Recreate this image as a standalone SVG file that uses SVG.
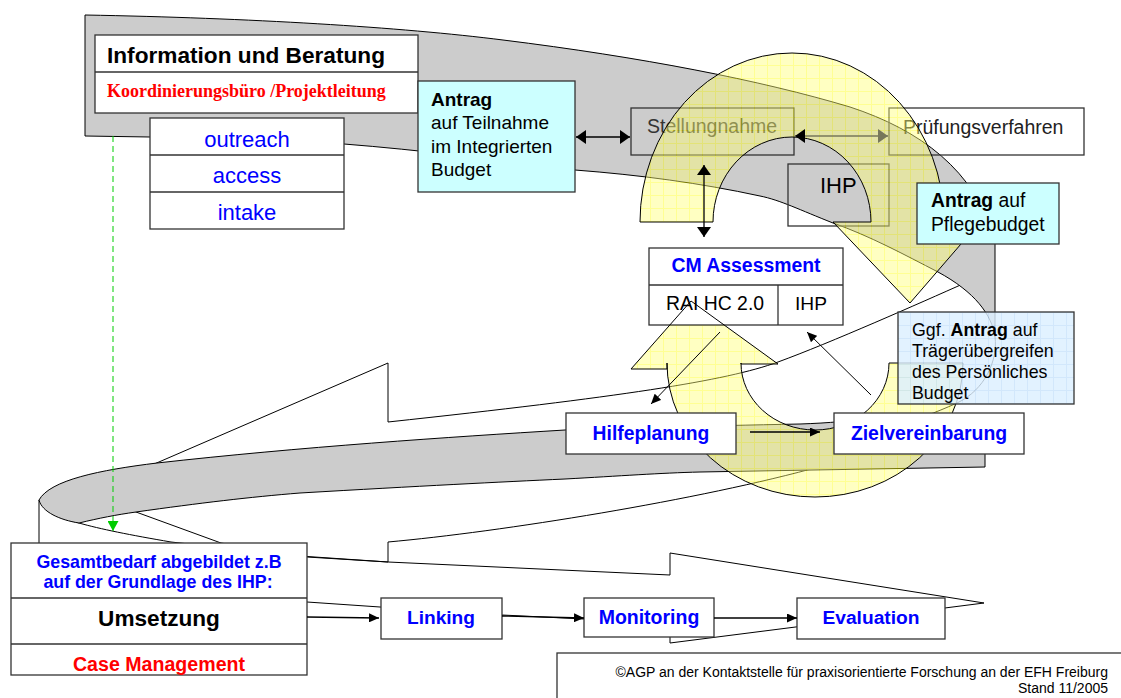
<svg xmlns="http://www.w3.org/2000/svg" width="1121" height="698" viewBox="0 0 1121 698">
<style>
.box{fill:#fff;stroke:#333;stroke-width:1.3}
.nf{fill:none;stroke:#333;stroke-width:1.3}
.cy{fill:#CCFFFF;stroke:#333;stroke-width:1.3}
.t{font-family:"Liberation Sans",Arial,sans-serif;fill:#000}
.s{font-family:"Liberation Serif","Times New Roman",serif}
.b{font-weight:bold}
.blue{fill:#0000FF}
.red{fill:#FF0000}
.band{fill:#CCCCCC;stroke:#000;stroke-width:1}
.ln{fill:none;stroke:#000;stroke-width:1}
.wh{fill:#fff;stroke:#000;stroke-width:1}
.yf{fill:url(#yg);opacity:0.45}
.ys{fill:none;stroke:#000;stroke-width:1}
.c{fill:none;stroke:#000;stroke-width:1.3}
</style>
<defs>
<pattern id="yg" width="13" height="13" patternUnits="userSpaceOnUse">
<rect width="13" height="13" fill="#FFFF78"/>
<path d="M0 0.5H13M0.5 0V13" stroke="#FFFF10" stroke-width="1"/>
</pattern>
<pattern id="bg" width="13" height="13" patternUnits="userSpaceOnUse">
<rect width="13" height="13" fill="#DCEFFF"/>
<path d="M0 0.5H13M0.5 0V13" stroke="#C8E2FA" stroke-width="1"/>
</pattern>
<marker id="big" viewBox="0 0 10 14" refX="10" refY="7" markerWidth="10" markerHeight="14" orient="auto-start-reverse" markerUnits="userSpaceOnUse"><path d="M0,0 L10,7 L0,14 Z" fill="#000"/></marker>
<marker id="bigo" viewBox="0 0 10 14" refX="10" refY="7" markerWidth="10" markerHeight="14" orient="auto-start-reverse" markerUnits="userSpaceOnUse"><path d="M0,0 L10,7 L0,14 Z" fill="#77775A"/></marker>
<marker id="sm" viewBox="0 0 10 9" refX="10" refY="4.5" markerWidth="10" markerHeight="9" orient="auto" markerUnits="userSpaceOnUse"><path d="M0,0 L10,4.5 L0,9 Z" fill="#000"/></marker>
<marker id="gr" viewBox="0 0 11 10" refX="5.5" refY="10" markerWidth="11" markerHeight="10" orient="0" markerUnits="userSpaceOnUse"><path d="M0,0 L11,0 L5.5,10 Z" fill="#00CC00"/></marker>
</defs>

<rect width="1121" height="698" fill="#fff"/>

<g id="ribbons">
<path class="wh" d="M39,500 L39,600 L307,602 L380,607 L502,615 L584,619 L670,628 L670,643 L984,603 L670,553 L670,575 L388,562 L307,557 L171,542 C130,535 100,529 79,523 C60,518 45,510 39,500 Z"/>
<path class="ln" d="M822,466 C700,500 500,532 388,542 L388,562 L300,556 L221,543 L136,512 L128,508"/>
<path class="ln" d="M965,283 C920,303 830,343 778,362 S620,397 388,422 L388,363 L145,468"/>
<path class="band" d="M85,15 C250,18 400,27 503,40 C640,57 760,80 850,107 C920,130 975,170 995,240 L995,337 C992,315 975,292 938,272 C905,255 870,236 833,223 C800,210 780,200 760,196 C700,183 640,175 575,170 C500,160 420,150 344,144 L150,137 L85,136 Z"/>
<path class="band" d="M985,467 L985,415 L880,417 C850,421 830,423 800,424 C700,426 620,428 565,430 C450,437 300,447 157,463 C100,470 50,480 39,500 C42,512 60,520 79,523 C100,518 115,515 136,512 C200,503 250,497 300,493 C420,486 500,482 565,479 C620,476 660,473 700,472 L985,467 Z"/>
<path class="ln" d="M995,337 C998,360 985,390 957,403 C935,413 915,420 900,424"/>
</g>

<g id="n-stellungnahme">
<rect class="nf" x="631" y="108" width="163" height="47"/>
<text class="t" x="647" y="133" font-size="19.5" style="fill:#333">Stellungnahme</text>
</g>
<g id="n-pruefungsverfahren">
<rect class="nf" x="889" y="108" width="195" height="47"/>
<text class="t" x="903" y="134" font-size="19.5" style="fill:#222">Prüfungsverfahren</text>
</g>
<g id="n-ihp">
<rect class="nf" x="788" y="164" width="101" height="62"/>
<text class="t" x="820" y="193" font-size="22">IHP</text>
</g>

<g id="cycles-fill">
<path class="yf" d="M640,222 A152,169 0 0 1 944,222 L980,222 L910,303 L833,222 L871,222 A79,85 0 0 0 713,222 Z"/>
<path class="yf" d="M963,363 A148,134 0 0 1 667,363 L667,369 L631,369 L691,301 L778,364 L741,364 L741,363 A74,67 0 0 0 889,363 Z"/>
</g>

<g id="n-cm">
<rect class="box" x="649" y="248" width="194" height="77"/>
<line x1="649" y1="285" x2="843" y2="285" stroke="#333" stroke-width="1.3"/>
<line x1="778" y1="285" x2="778" y2="325" stroke="#333" stroke-width="1.3"/>
<text class="t b blue" x="746" y="272" font-size="19.4" text-anchor="middle">CM Assessment</text>
<text class="t" x="666" y="310" font-size="19.4">RAI HC 2.0</text>
<text class="t" x="795" y="310" font-size="19.2">IHP</text>
</g>

<g id="cycles-outline">
<path class="ys" d="M640,222 A152,169 0 0 1 944,222 L980,222 L910,303 L833,222 L871,222 A79,85 0 0 0 713,222 Z"/>
<path class="ys" d="M963,363 A148,134 0 0 1 667,363 L667,369 L631,369 L691,301 L778,364 L741,364 L741,363 A74,67 0 0 0 889,363 Z"/>
</g>

<g id="n-info">
<rect class="box" x="95" y="35" width="323" height="78"/>
<line x1="95" y1="72" x2="418" y2="72" stroke="#333" stroke-width="1.3"/>
<text class="t b" x="107" y="63" font-size="22" textLength="278" lengthAdjust="spacingAndGlyphs">Information und Beratung</text>
<text class="s b red" x="107" y="97" font-size="18">Koordinierungsbüro /Projektleitung</text>
</g>

<g id="n-outreach">
<rect class="box" x="150" y="118" width="194" height="111"/>
<line x1="150" y1="155" x2="344" y2="155" stroke="#333" stroke-width="1.3"/>
<line x1="150" y1="192" x2="344" y2="192" stroke="#333" stroke-width="1.3"/>
<text class="t blue" x="247" y="147" font-size="22" text-anchor="middle">outreach</text>
<text class="t blue" x="247" y="183" font-size="22" text-anchor="middle">access</text>
<text class="t blue" x="247" y="220" font-size="22" text-anchor="middle">intake</text>
</g>

<g id="n-antrag-teilnahme">
<rect class="cy" x="418" y="81" width="157" height="111"/>
<text class="t b" x="431" y="106" font-size="19">Antrag</text>
<text class="t" x="431" y="129" font-size="19">auf Teilnahme</text>
<text class="t" x="431" y="153" font-size="19">im Integrierten</text>
<text class="t" x="431" y="176" font-size="19">Budget</text>
</g>

<g id="n-antrag-pflege">
<rect class="cy" x="917" y="183" width="142" height="61"/>
<text class="t" x="931" y="207" font-size="19.3"><tspan class="b">Antrag</tspan> auf</text>
<text class="t" x="931" y="231" font-size="19.3">Pflegebudget</text>
</g>

<g id="n-ggf">
<rect x="898" y="312" width="176" height="92" fill="url(#bg)" opacity="0.82"/>
<rect class="nf" x="898" y="312" width="176" height="92"/>
<text class="t" x="912" y="336" font-size="17.8">Ggf. <tspan class="b">Antrag</tspan> auf</text>
<text class="t" x="912" y="357" font-size="17.8">Trägerübergreifen</text>
<text class="t" x="912" y="378" font-size="17.8">des Persönliches</text>
<text class="t" x="912" y="399" font-size="17.8">Budget</text>
</g>

<g id="n-hilfeplanung">
<rect class="box" x="566" y="413" width="170" height="41"/>
<text class="t b blue" x="651" y="440" font-size="19.3" text-anchor="middle">Hilfeplanung</text>
</g>
<g id="n-zielvereinbarung">
<rect class="box" x="834" y="413" width="190" height="41"/>
<text class="t b blue" x="929" y="440" font-size="19.4" text-anchor="middle">Zielvereinbarung</text>
</g>

<g id="n-gesamtbedarf">
<rect class="box" x="11" y="543" width="296" height="132"/>
<line x1="11" y1="598" x2="307" y2="598" stroke="#333" stroke-width="1.3"/>
<line x1="11" y1="644" x2="307" y2="644" stroke="#333" stroke-width="1.3"/>
<text class="t b blue" x="159" y="568" font-size="17.8" text-anchor="middle">Gesamtbedarf abgebildet z.B</text>
<text class="t b blue" x="158" y="588" font-size="17.8" text-anchor="middle">auf der Grundlage des IHP:</text>
<text class="t b" x="159" y="626" font-size="22.6" text-anchor="middle">Umsetzung</text>
<text class="t b red" x="159" y="671" font-size="19.6" text-anchor="middle">Case Management</text>
</g>

<g id="n-linking">
<rect class="box" x="381" y="598" width="121" height="41"/>
<text class="t b blue" x="441" y="624" font-size="19.1" text-anchor="middle">Linking</text>
</g>
<g id="n-monitoring">
<rect class="box" x="584" y="598" width="130" height="39"/>
<text class="t b blue" x="649" y="624" font-size="19.5" text-anchor="middle">Monitoring</text>
</g>
<g id="n-evaluation">
<rect class="box" x="797" y="598" width="148" height="41"/>
<text class="t b blue" x="871" y="624" font-size="19.2" text-anchor="middle">Evaluation</text>
</g>

<g id="footer">
<rect class="box" x="557" y="653" width="600" height="60"/>
<text class="t" x="1108" y="677" font-size="14" text-anchor="end">©AGP an der Kontaktstelle für praxisorientierte Forschung an der EFH Freiburg</text>
<text class="t" x="1108" y="693" font-size="14" text-anchor="end">Stand 11/2005</text>
</g>

<g id="connectors">
<path d="M113,136 V531" fill="none" stroke="#00CC00" stroke-width="1" stroke-dasharray="6,4" marker-end="url(#gr)"/>
<path class="c" d="M576,137 H630" marker-start="url(#big)" marker-end="url(#big)"/>
<path d="M795,136 H888" fill="none" stroke="#77775A" stroke-width="1.3" marker-start="url(#big)" marker-end="url(#bigo)"/>
<path class="c" d="M704,165 V237" marker-start="url(#big)" marker-end="url(#big)"/>
<path class="ln" d="M720,332 L651,404" marker-end="url(#sm)"/>
<path class="ln" d="M871,395 L807,332" marker-end="url(#sm)"/>
<path class="c" d="M750,432 H820" marker-end="url(#sm)"/>
<path class="c" d="M307,617 L379,618" marker-end="url(#sm)"/>
<path class="c" d="M502,616 L584,618" marker-end="url(#sm)"/>
<path class="c" d="M714,618 H797" marker-end="url(#sm)"/>
</g>
</svg>
